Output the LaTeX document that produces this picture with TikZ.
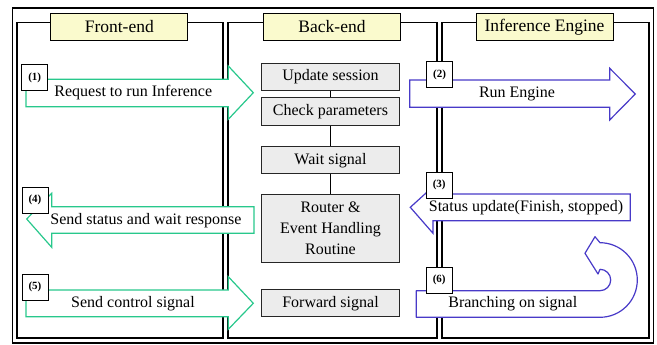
\documentclass[tikz,border=0pt]{standalone}
\usepackage{fontspec}
\setmainfont{Liberation Serif}
\newfontfamily\labelfont{Liberation Serif}
\definecolor{flowgreen}{RGB}{40,200,140}
\definecolor{flowblue}{RGB}{72,58,200}
\definecolor{titlefill}{RGB}{250,250,205}
\definecolor{boxfill}{RGB}{236,236,236}
\begin{document}
\begin{tikzpicture}[x=1pt,y=1pt,
  lane/.style={draw=black, line width=1.2pt},
  title/.style={draw=black, line width=1pt, fill=titlefill, minimum width=137pt,
    minimum height=27.5pt, inner sep=0pt, font=\labelfont\fontsize{17.5}{20}\selectfont},
  stepbox/.style={draw=black!85, line width=1pt, fill=boxfill, minimum width=137.6pt,
    inner sep=0pt, align=center, font=\labelfont\fontsize{16}{21}\selectfont},
  tag/.style={draw=black, line width=0.8pt, fill=white, minimum size=26pt,
    inner sep=0pt, font=\labelfont\bfseries\fontsize{11}{12}\selectfont},
  flowtxt/.style={inner sep=0pt, font=\labelfont\fontsize{16}{18}\selectfont},
  greenarrow/.style={draw=flowgreen, line width=1.2pt, fill=white},
  bluearrow/.style={draw=flowblue, line width=1.2pt, fill=white},
  link/.style={draw=black, line width=1pt},
]
\useasboundingbox (0,0) rectangle (657,345);

% outer frame and the three lanes
\draw[line width=1.5pt] (12.5,2) rectangle (653.5,337);
\draw[lane] (17,7) rectangle (223,322.3);
\draw[lane] (228,7) rectangle (437,322.3);
\draw[lane] (442,7) rectangle (649,322.3);

% lane titles
\node[title] (fe) at (119.3,318.2) {Front-end};
\node[title] (be) at (332,318.2) {Back-end};
\node[title] (ie) at (544.5,318.2) {Inference Engine};

% back-end steps
\node[stepbox, minimum height=27.4pt] (us) at (330.5,268) {Update session};
\node[stepbox, minimum height=27.7pt] (cp) at (330.5,233.8) {Check parameters};
\node[stepbox, minimum height=27.3pt] (ws) at (330.5,184.7) {Wait signal};
\node[stepbox, minimum height=68.4pt] (rt) at (330.5,116.5) {Router \&\\Event Handling\\Routine};
\node[stepbox, minimum height=26.7pt] (fs) at (330.5,41.7) {Forward signal};
\draw[link] (us.south) -- (cp.north);
\draw[link] (cp.south) -- (ws.north);
\draw[link] (ws.south) -- (rt.north);

% (1) request
\draw[greenarrow] (26,265.7) -- (228.3,265.7) -- (228.3,279) -- (253.3,252.3)
  -- (228.3,225.7) -- (228.3,238.3) -- (26,238.3) -- cycle;
% (2) run engine
\draw[bluearrow] (409.7,265) -- (609.7,265) -- (609.7,276.7) -- (635.3,251)
  -- (609.7,225) -- (609.7,237.7) -- (409.7,237.7) -- cycle;
% (3) status update
\draw[bluearrow] (630.3,151) -- (433,151) -- (433,158.3) -- (410.3,137.7)
  -- (433,111.7) -- (433,124.3) -- (630.3,124.3) -- cycle;
% (4) send status
\draw[greenarrow] (254,138.3) -- (51.7,138.3) -- (51.7,151.7) -- (26.7,126)
  -- (51.7,97.7) -- (51.7,111.7) -- (254,111.7) -- cycle;
% (5) control signal
\draw[greenarrow] (26,55) -- (228.3,55) -- (228.3,68.3) -- (253.3,41.7)
  -- (228.3,15.7) -- (228.3,28.3) -- (26,28.3) -- cycle;
% (6) branching, a U-turn arrow
\draw[bluearrow, line join=round] (416.3,54.3) -- (600,54.3)
  arc[start angle=-90, end angle=90, radius=10.7]
  -- (598,71) -- (585,91.7) -- (595,108.3) -- (600,102.3)
  arc[start angle=90, end angle=-90, radius=37.3]
  -- (416.3,27.7) -- cycle;

% arrow texts
\node[flowtxt] (t1) at (133.3,252) {Request to run Inference};
\node[flowtxt] (t2) at (517,251) {Run Engine};
\node[flowtxt] (t3) at (526,137.7) {Status update(Finish, stopped)};
\node[flowtxt] (t4) at (146,124.7) {Send status and wait response};
\node[flowtxt] (t5) at (133,41.7) {Send control signal};
\node[flowtxt] (t6) at (512.8,41.7) {Branching on signal};

% step numbers
\node[tag] (n1) at (34.7,267.5) {(1)};
\node[tag] (n2) at (439.5,270.3) {(2)};
\node[tag] (n3) at (439.2,160) {(3)};
\node[tag] (n4) at (35,145) {(4)};
\node[tag] (n5) at (35,58) {(5)};
\node[tag] (n6) at (439.2,64.7) {(6)};
\end{tikzpicture}
\end{document}
